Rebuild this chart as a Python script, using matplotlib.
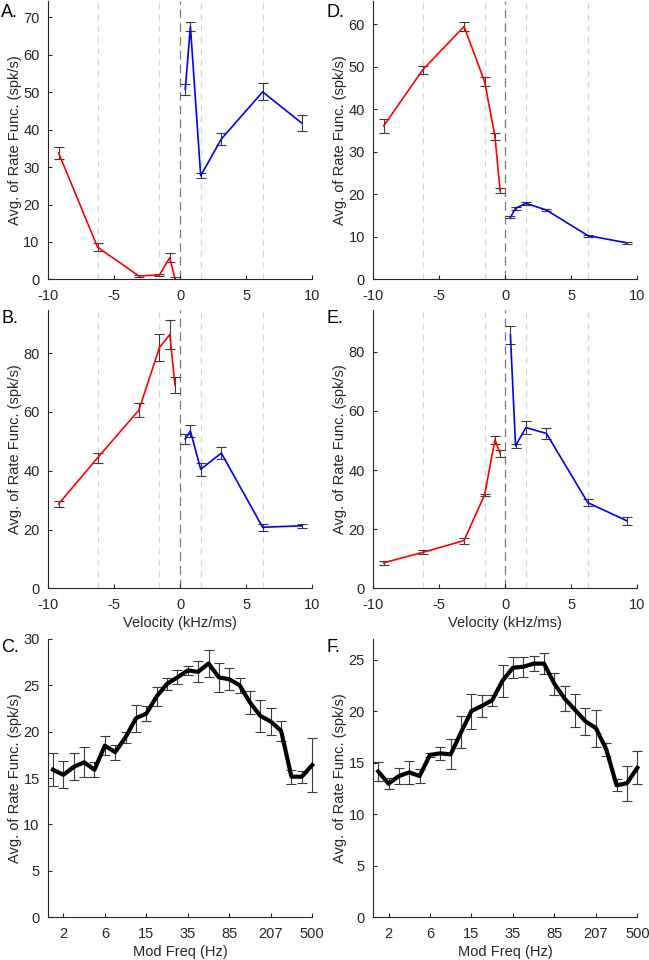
import matplotlib
matplotlib.use('Agg')
import matplotlib.pyplot as plt
import numpy as np

plt.rcParams['font.family'] = ['Liberation Sans', 'DejaVu Sans']
plt.rcParams['axes.unicode_minus'] = False

# velocities (kHz/ms)
vel_down = [-9.2, -6.25, -3.12, -1.56, -0.78, -0.39]
vel_up = [0.39, 0.78, 1.56, 3.12, 6.25, 9.2]
vel_guides = [-6.25, -1.56, 1.56, 6.25]

# panel A
a_down = [33.8, 8.6, 0.9, 1.2, 5.8, 0.2]
a_down_sem = [1.7, 1.0, 0.3, 0.2, 1.2, 0.3]
a_up = [50.8, 67.6, 27.7, 37.5, 50.1, 41.8]
a_up_sem = [1.4, 1.3, 0.6, 1.5, 2.3, 2.2]

# panel B
b_down = [28.7, 44.4, 60.6, 81.9, 86.3, 69.2]
b_down_sem = [1.1, 1.8, 2.4, 4.7, 4.9, 2.8]
b_up = [50.8, 53.5, 40.5, 46.0, 20.8, 21.3]
b_up_sem = [1.8, 2.1, 2.3, 2.0, 1.1, 0.6]

# panel D
d_down = [36.1, 49.3, 59.5, 46.5, 33.6, 20.9]
d_down_sem = [1.7, 0.9, 1.0, 1.0, 0.9, 0.5]
d_up = [14.6, 16.7, 17.9, 16.3, 10.3, 8.6]
d_up_sem = [0.2, 0.4, 0.3, 0.3, 0.25, 0.3]

# panel E
e_down = [8.7, 12.2, 16.2, 31.7, 50.3, 45.6]
e_down_sem = [0.6, 0.7, 1.0, 0.4, 1.3, 1.1]
e_up = [85.7, 48.2, 54.4, 52.4, 29.0, 22.9]
e_up_sem = [3.0, 0.7, 2.2, 2.0, 1.1, 1.3]

# modulation frequency panels (26 frequencies, labelled every 4th)
mod_labels = ['2', '6', '15', '35', '85', '207', '500']
mod_label_idx = [1, 5, 9, 13, 17, 21, 25]

c_mean = [15.9, 15.35, 16.2, 16.7, 15.9, 18.5, 17.8, 19.4, 21.45, 21.95, 23.8, 25.15, 25.85,
          26.6, 26.45, 27.35, 25.85, 25.65, 25.0, 23.15, 21.7, 21.1, 20.1, 15.15, 15.15, 16.4]
c_sem = [1.8, 1.45, 1.45, 1.6, 0.8, 1.0, 0.8, 0.6, 1.45, 0.85, 1.0, 0.65, 0.75,
         0.5, 1.15, 1.45, 1.55, 1.2, 0.8, 1.25, 1.7, 1.5, 1.1, 0.75, 0.65, 2.9]

f_mean = [14.15, 12.95, 13.7, 14.05, 13.7, 15.75, 15.9, 15.8, 17.95, 20.0, 20.5, 21.05, 22.95,
          24.2, 24.3, 24.6, 24.6, 22.65, 21.2, 20.1, 19.0, 18.35, 16.3, 12.8, 13.0, 14.5]
f_sem = [0.9, 0.55, 0.73, 1.1, 0.65, 0.2, 0.65, 1.45, 1.55, 1.7, 1.1, 0.55, 1.55,
         1.0, 0.95, 0.7, 1.0, 1.05, 1.2, 1.6, 1.3, 1.8, 0.65, 0.6, 1.7, 1.6]

axcol = '#262626'
ebcol = '#3a3a3a'

fig = plt.figure(figsize=(6.49, 9.6), dpi=100)

W = 0.407
H = 0.29
lefts = [0.074, 0.575]
bottoms = [0.709, 0.387, 0.0445]


def style(ax):
    for s in ['top', 'right']:
        ax.spines[s].set_visible(False)
    for s in ['left', 'bottom']:
        ax.spines[s].set_color(axcol)
        ax.spines[s].set_linewidth(0.8)
    ax.tick_params(direction='in', length=3, width=0.8, colors=axcol, labelsize=10.5)
    ax.tick_params(axis='x', pad=7)
    ax.tick_params(axis='y', pad=6)
    ax.set_ylabel('Avg. of Rate Func. (spk/s)', fontsize=10.5, color=axcol, labelpad=1)


def vel_panel(ax, down, down_sem, up, up_sem, ymax, yticks, xlabel):
    for g in vel_guides:
        ax.axvline(g, color='#d6d6d6', lw=0.9, dashes=(5, 4), zorder=0)
    ax.axvline(0, color='#7a7a7a', lw=0.9, dashes=(7, 4), zorder=0)
    ax.errorbar(vel_down, down, yerr=down_sem, fmt='none', ecolor=ebcol, elinewidth=0.8,
                capsize=3.6, capthick=0.8, zorder=2)
    ax.errorbar(vel_up, up, yerr=up_sem, fmt='none', ecolor=ebcol, elinewidth=0.8,
                capsize=3.6, capthick=0.8, zorder=2)
    ax.plot(vel_down, down, color='#ff0000', lw=1.2, zorder=3)
    ax.plot(vel_up, up, color='#0000ff', lw=1.2, zorder=3)
    ax.set_xlim(-10, 10)
    ax.set_xticks([-10, -5, 0, 5, 10])
    ax.set_ylim(0, ymax)
    ax.set_yticks(yticks)
    if xlabel:
        ax.set_xlabel('Velocity (kHz/ms)', fontsize=10.5, color=axcol, labelpad=3)
    style(ax)


def mod_panel(ax, mean, sem, ymax, yticks):
    x = np.arange(len(mean))
    eb = ax.errorbar(x, mean, yerr=sem, fmt='none', ecolor=ebcol, elinewidth=0.8,
                     capsize=3.6, capthick=0.8, zorder=2)
    for art in eb.get_children():
        art.set_clip_on(False)
    ax.plot(x, mean, color='black', lw=3, zorder=3, clip_on=False)
    ax.set_xlim(-0.48, 25)
    ax.set_xticks(mod_label_idx)
    ax.set_xticklabels(mod_labels)
    ax.set_ylim(0, ymax)
    ax.set_yticks(yticks)
    ax.set_xlabel('Mod Freq (Hz)', fontsize=10.5, color=axcol, labelpad=3)
    style(ax)


axA = fig.add_axes([lefts[0], bottoms[0], W, H])
vel_panel(axA, a_down, a_down_sem, a_up, a_up_sem, 74.4, range(0, 71, 10), False)
axB = fig.add_axes([lefts[0], bottoms[1], W, H])
vel_panel(axB, b_down, b_down_sem, b_up, b_up_sem, 94.6, range(0, 81, 20), True)
axC = fig.add_axes([lefts[0], bottoms[2], W, H])
mod_panel(axC, c_mean, c_sem, 30, range(0, 31, 5))

axD = fig.add_axes([lefts[1], bottoms[0], W, H])
vel_panel(axD, d_down, d_down_sem, d_up, d_up_sem, 65.5, range(0, 61, 10), False)
axE = fig.add_axes([lefts[1], bottoms[1], W, H])
vel_panel(axE, e_down, e_down_sem, e_up, e_up_sem, 94.1, range(0, 81, 20), True)
axF = fig.add_axes([lefts[1], bottoms[2], W, H])
mod_panel(axF, f_mean, f_sem, 27, range(0, 26, 5))

# panel letters
for lab, x, y in [('A.', 0.002, 0.987), ('B.', 0.002, 0.668), ('C.', 0.002, 0.325),
                  ('D.', 0.503, 0.987), ('E.', 0.503, 0.668), ('F.', 0.503, 0.325)]:
    fig.text(x, y, lab, fontsize=13, color='black', va='center', ha='left')

fig.savefig('out.png', dpi=100)
